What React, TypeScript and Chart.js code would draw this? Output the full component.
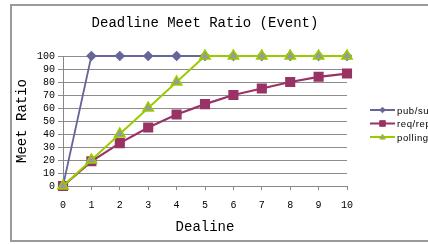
import React, { useEffect, useRef } from 'react';
import { Chart, registerables } from 'chart.js';

Chart.register(...registerables);

const categories = ['0', '1', '2', '3', '4', '5', '6', '7', '8', '9', '10'];
const pubSub = [0, 100, 100, 100, 100, 100, 100, 100, 100, 100, 100];
const reqRep = [0, 19, 33, 45, 55, 63, 70, 75, 80, 84, 86.5];
const polling = [0, 20, 40, 60, 80, 100, 100, 100, 100, 100, 100];
const seriesNames = ['pub/sub', 'req/rep', 'polling'];
const yMin = 0;
const yMax = 100;
const yStep = 10;
const titleText = 'Deadline Meet Ratio (Event)';
const xTitle = 'Dealine';
const yTitle = 'Meet Ratio';

const mono = "'Liberation Mono', 'Courier New', monospace";
const sans = "'Liberation Sans', Arial, sans-serif";

function drawMarker(ctx: CanvasRenderingContext2D, style: string, x: number, y: number, r: number, fill: string, stroke: string, lw: number) {
  ctx.beginPath();
  if (style === 'rect') {
    ctx.rect(x - r, y - r, 2 * r, 2 * r);
  } else if (style === 'rectRot') {
    ctx.moveTo(x, y - r);
    ctx.lineTo(x + r, y);
    ctx.lineTo(x, y + r);
    ctx.lineTo(x - r, y);
    ctx.closePath();
  } else {
    ctx.moveTo(x, y - r);
    ctx.lineTo(x + r, y + r * 0.75);
    ctx.lineTo(x - r, y + r * 0.75);
    ctx.closePath();
  }
  ctx.fillStyle = fill;
  ctx.fill();
  ctx.strokeStyle = stroke;
  ctx.lineWidth = lw;
  ctx.stroke();
}

export default function App() {
  const ref = useRef<HTMLCanvasElement>(null);

  useEffect(() => {
    if (!ref.current) return;
    const overlay = {
      id: 'overlay',
      afterDraw(chart: any) {
        const ctx: CanvasRenderingContext2D = chart.ctx;
        ctx.save();
        ctx.font = `14px ${mono}`;
        ctx.fillStyle = '#000';
        ctx.textAlign = 'center';
        ctx.textBaseline = 'middle';
        ctx.fillText(titleText, 205, 23);

        chart.data.datasets.forEach((ds: any, i: number) => {
          const y = 110 + i * 13.5;
          ctx.strokeStyle = ds.borderColor;
          ctx.lineWidth = 2;
          ctx.beginPath();
          ctx.moveTo(370, y);
          ctx.lineTo(395, y);
          ctx.stroke();
          drawMarker(ctx, ds.pointStyle, 382.5, y, 2.8, ds.pointBackgroundColor, ds.pointBorderColor, 1);
          ctx.font = `9.5px ${sans}`;
          (ctx as any).letterSpacing = '0.6px';
          ctx.fillStyle = '#000';
          ctx.textAlign = 'left';
          ctx.textBaseline = 'middle';
          ctx.fillText(ds.label, 397, y + 1);
          (ctx as any).letterSpacing = '0px';
        });
        ctx.restore();
      },
    };

    const chart = new Chart(ref.current, {
      type: 'line',
      data: {
        labels: categories,
        datasets: [
          {
            label: seriesNames[0],
            data: pubSub,
            borderColor: '#666699',
            backgroundColor: '#666699',
            pointBackgroundColor: '#666699',
            pointBorderColor: '#666699',
            pointStyle: 'rectRot',
            pointRadius: 4,
            borderWidth: 1.8,
            order: 2,
            clip: false,
          } as any,
          {
            label: seriesNames[1],
            data: reqRep,
            borderColor: '#993366',
            backgroundColor: '#993366',
            pointBackgroundColor: '#993366',
            pointBorderColor: '#993366',
            pointStyle: 'rect',
            pointRadius: 5.6,
            borderWidth: 2.2,
            order: 1,
            clip: false,
          },
          {
            label: seriesNames[2],
            data: polling,
            borderColor: '#99CC00',
            backgroundColor: '#99CC00',
            pointBackgroundColor: '#999999',
            pointBorderColor: '#99CC00',
            pointBorderWidth: 1.5,
            pointStyle: 'triangle',
            pointRadius: 6,
            borderWidth: 2,
            order: 0,
            clip: false,
          },
        ],
      },
      options: {
        animation: false,
        responsive: false,
        devicePixelRatio: 1,
        layout: { padding: { left: 10, top: 56, right: 81, bottom: 8 } },
        plugins: {
          legend: { display: false },
          title: { display: false },
          tooltip: { enabled: false },
        },
        elements: { line: { tension: 0 } },
        scales: {
          x: {
            type: 'category',
            offset: false,
            afterFit: (s: any) => { s.height = 50; },
            grid: {
              drawOnChartArea: false,
              drawTicks: true,
              tickLength: 4,
              color: '#888888',
            },
            border: { display: true, color: '#888888', width: 1 },
            ticks: {
              padding: 9,
              maxRotation: 0,
              autoSkip: false,
              color: '#000',
              font: { family: mono, size: 10 },
            },
            title: {
              display: true,
              text: xTitle,
              color: '#000',
              font: { family: mono, size: 14 },
              padding: { top: 0, bottom: 0 },
            },
          },
          y: {
            min: yMin,
            max: yMax,
            afterFit: (s: any) => { s.width = 53; },
            grid: {
              color: '#8c8c8c',
              tickLength: 5,
              lineWidth: 1,
            },
            border: { display: true, color: '#888888', width: 1 },
            ticks: {
              stepSize: yStep,
              autoSkip: false,
              padding: 3,
              color: '#000',
              font: { family: mono, size: 10 },
            },
            title: {
              display: true,
              text: yTitle,
              color: '#000',
              font: { family: mono, size: 14 },
              padding: { top: 4, bottom: 0 },
            },
          },
        },
      },
      plugins: [overlay],
    } as any);

    return () => chart.destroy();
  }, []);

  return (
    <div style={{ position: 'fixed', left: 0, top: 0, width: 428, height: 244, overflow: 'hidden', background: '#fff' }}>
      <div
        style={{
          position: 'absolute',
          left: 10,
          top: 4,
          width: 440,
          height: 238,
          boxSizing: 'border-box',
          border: '2px solid #9a9a9a',
        }}
      />
      <canvas
        ref={ref}
        width={428}
        height={244}
        style={{ position: 'absolute', left: 0, top: 0, width: 428, height: 244, display: 'block' }}
      />
    </div>
  );
}
